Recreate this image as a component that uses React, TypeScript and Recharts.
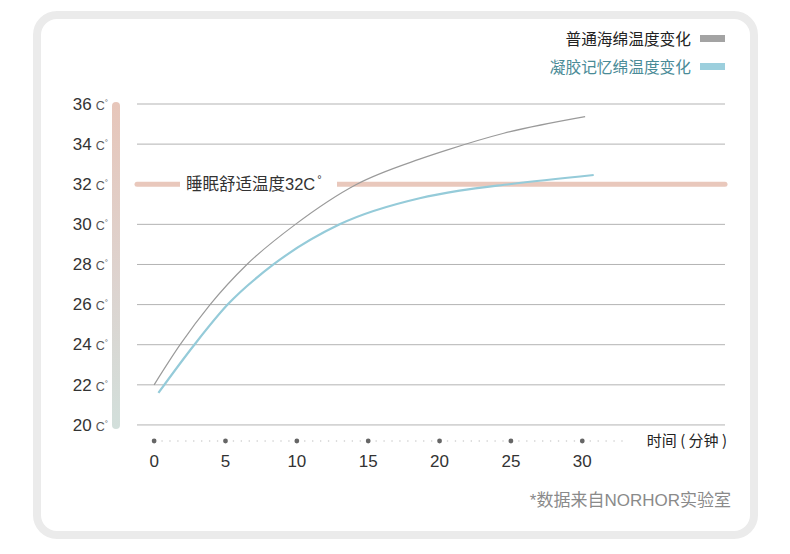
import { CartesianGrid, Legend, Line, LineChart, ReferenceLine, XAxis, YAxis } from "recharts";

// 普通海绵 (gray) readings: minute -> °C
const spongeMinutes = [0, 1.82, 3.92, 6.5, 9.9, 14.2, 18.6, 20.5, 24.5, 30.2];
const spongeTemps = [22.0, 24.0, 26.0, 28.0, 30.0, 32.0, 33.25, 33.7, 34.54, 35.37];

// 凝胶记忆绵 (blue) readings
const gelMinutes = [0.3, 2.82, 5.15, 8.36, 13.0, 18.6, 21.4, 24.9, 30.8];
const gelTemps = [21.6, 24.0, 26.0, 28.0, 30.0, 31.3, 31.68, 32.0, 32.46];

const seriesNames = ["普通海绵温度变化", "凝胶记忆绵温度变化"];
const seriesColors = ["#9a9a9a", "#95cbd9"];
const swatchColors = ["#a3a3a3", "#9ccfdd"];
const legendTextColors = ["#222222", "#4a8b97"];
const yTicks = [20, 22, 24, 26, 28, 30, 32, 34, 36];
const gridTemps = [20, 22, 24, 26, 28, 30, 34, 36];
const xTicks = [0, 5, 10, 15, 20, 25, 30];
const comfortTemp = 32;
const axisFloor = 19.2;
const dottedEnd = 33.2;

const FONT = '"Liberation Sans", "Noto Sans CJK SC", sans-serif';
const CJK = '"Noto Sans CJK SC", "Noto Sans", sans-serif';

const spongeData = spongeMinutes.map((m, i) => ({ min: m, temp: spongeTemps[i] }));
const gelData = gelMinutes.map((m, i) => ({ min: m, temp: gelTemps[i] }));

function TempTick({ x, y, payload }: any) {
  return (
    <text x={x - 29} y={y} dy="0.36em" textAnchor="end" fontFamily={FONT}>
      <tspan fontSize={17} fill="#333">{payload.value}</tspan>
      <tspan fontSize={12.5} fill="#555" dx={4}>C</tspan>
      <tspan fontSize={8} fill="#555" dy={-5}>°</tspan>
    </text>
  );
}

function MinuteTick({ x, y, payload }: any) {
  return (
    <g>
      <circle cx={x} cy={y} r={2.4} fill="#666" />
      <text x={x} y={y + 26} textAnchor="middle" fontSize={17} fill="#333" fontFamily={FONT}>
        {payload.value}
      </text>
    </g>
  );
}

function ComfortLabel({ viewBox }: any) {
  const { x, y } = viewBox;
  return (
    <g>
      <rect x={x + 43} y={y - 10} width={157} height={20} fill="#fff" />
      <text x={x + 49} y={y} dy="0.36em" fontSize={16.5} fill="#333" fontFamily={FONT}>
        睡眠舒适温度32C
        <tspan fontSize={11} dx={2} dy={-7}>°</tspan>
      </text>
    </g>
  );
}

function TimeLabel({ viewBox }: any) {
  const { x, y, width } = viewBox;
  return (
    <text x={x + width + 2} y={y} dy="0.36em" textAnchor="end" fontSize={15} fill="#222" fontFamily={CJK}>
      时间 ( 分钟 )
    </text>
  );
}

function LegendRows() {
  return (
    <div style={{ fontFamily: CJK }}>
      {seriesNames.map((name, i) => (
        <div
          key={name}
          style={{ display: "flex", alignItems: "center", justifyContent: "flex-end", height: 28 }}
        >
          <span style={{ fontSize: 15.7, color: legendTextColors[i], marginRight: 9 }}>{name}</span>
          <span style={{ width: 25, height: 7, background: swatchColors[i] }} />
        </div>
      ))}
    </div>
  );
}

export default function App() {
  return (
    <div style={{ position: "absolute", left: 0, top: 0, width: 790, height: 554, background: "#fff" }}>
      <div
        style={{
          position: "absolute",
          left: 33,
          top: 11,
          width: 725,
          height: 528,
          border: "8px solid #ebebeb",
          borderRadius: 24,
          boxSizing: "border-box",
        }}
      />
      <div
        style={{
          position: "absolute",
          left: 112,
          top: 102,
          width: 8,
          height: 327,
          borderRadius: 4,
          background: "linear-gradient(#e7c6ba, #ddd3cf 55%, #d2dfdb)",
        }}
      />
      <div style={{ position: "absolute", left: 0, top: 0 }}>
        <LineChart width={790} height={554} margin={{ top: 104, right: 65, bottom: 73, left: 77 }}>
          <CartesianGrid horizontal vertical={false} horizontalValues={gridTemps} stroke="#b3b3b3" strokeWidth={1} />
          <XAxis
            dataKey="min"
            type="number"
            domain={[-1.2, 40]}
            ticks={xTicks}
            axisLine={false}
            tickLine={false}
            tickSize={0}
            tickMargin={0}
            height={40}
            tick={<MinuteTick />}
            label={<TimeLabel />}
          />
          <YAxis
            type="number"
            domain={[axisFloor, 36]}
            ticks={yTicks}
            axisLine={false}
            tickLine={false}
            tickSize={0}
            tickMargin={0}
            width={60}
            tick={<TempTick />}
          />
          <ReferenceLine
            segment={[
              { x: 0, y: axisFloor },
              { x: dottedEnd, y: axisFloor },
            ]}
            stroke="#cccccc"
            strokeWidth={1.6}
            strokeDasharray="0 7.93"
            strokeLinecap="round"
          />
          <ReferenceLine
            y={comfortTemp}
            stroke="#e9c8bc"
            strokeWidth={5}
            strokeLinecap="round"
            label={<ComfortLabel />}
          />
          <Legend
            layout="vertical"
            align="center"
            verticalAlign="middle"
            content={<LegendRows />}
            wrapperStyle={{ top: 24, right: 65, left: "auto", width: "auto" }}
          />
          <Line
            data={spongeData}
            dataKey="temp"
            name={seriesNames[0]}
            type="monotone"
            stroke={seriesColors[0]}
            strokeWidth={1.2}
            dot={false}
            activeDot={false}
            isAnimationActive={false}
          />
          <Line
            data={gelData}
            dataKey="temp"
            name={seriesNames[1]}
            type="monotone"
            stroke={seriesColors[1]}
            strokeWidth={2.2}
            dot={false}
            activeDot={false}
            isAnimationActive={false}
          />
        </LineChart>
      </div>
      <div
        style={{
          position: "absolute",
          right: 59,
          top: 486,
          fontFamily: FONT,
          fontSize: 17,
          color: "#8a8a8a",
          whiteSpace: "nowrap",
        }}
      >
        *数据来自NORHOR实验室
      </div>
    </div>
  );
}
